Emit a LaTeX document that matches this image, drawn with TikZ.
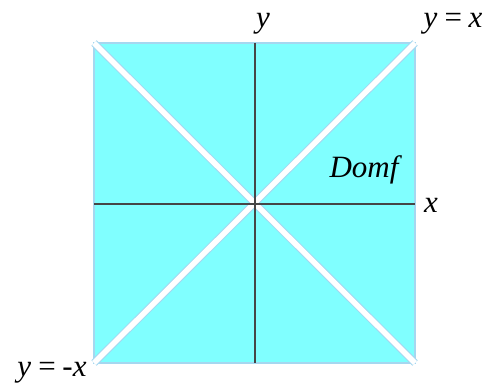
\documentclass[tikz,border=0pt]{standalone}
\usepackage{fontspec}
\setmainfont{Liberation Serif}
\usepackage{tikz}
\usetikzlibrary{positioning,calc}
\definecolor{domfill}{RGB}{128, 255, 255}
\definecolor{domedge}{RGB}{165, 215, 240}
\definecolor{axisgray}{RGB}{70, 70, 70}

\begin{document}
\begin{tikzpicture}[x=1pt, y=-1pt, every node/.style={font=\fontsize{31}{33}\selectfont\itshape, inner sep=0pt}]
  \useasboundingbox (0,0) rectangle (489,387);
  % square corners
  \coordinate (tl) at (94,43);
  \coordinate (tr) at (415,43);
  \coordinate (bl) at (94,363);
  \coordinate (br) at (415,363);
  \coordinate (o) at (255,204);
  \coordinate (yt) at (255,43);
  \coordinate (yb) at (255,363);
  \coordinate (xl) at (94,204);
  \coordinate (xr) at (415,204);

  \fill[domfill] (tl) rectangle (br);
  \draw[domedge, line width=2.5pt] (tl) rectangle (br);

  \draw[domedge, line width=7.5pt] (tl) -- (br);
  \draw[domedge, line width=7.5pt] (bl) -- (tr);
  \draw[white, line width=5.5pt] (tl) -- (br);
  \draw[white, line width=5.5pt] (bl) -- (tr);

  \draw[axisgray, line width=1.3pt] (yt) -- (yb);
  \draw[axisgray, line width=1.3pt] (xl) -- (xr);

  \node (ly) at (263,24) {y};
  \node (lyx) at (453,24) {y\,=\,x};
  \node (lymx) at (52,373) {y\,=\,-x};
  \node (ldom) at (364,170) {Domf};
  \node (lx) at (431,205) {x};
\end{tikzpicture}
\end{document}
